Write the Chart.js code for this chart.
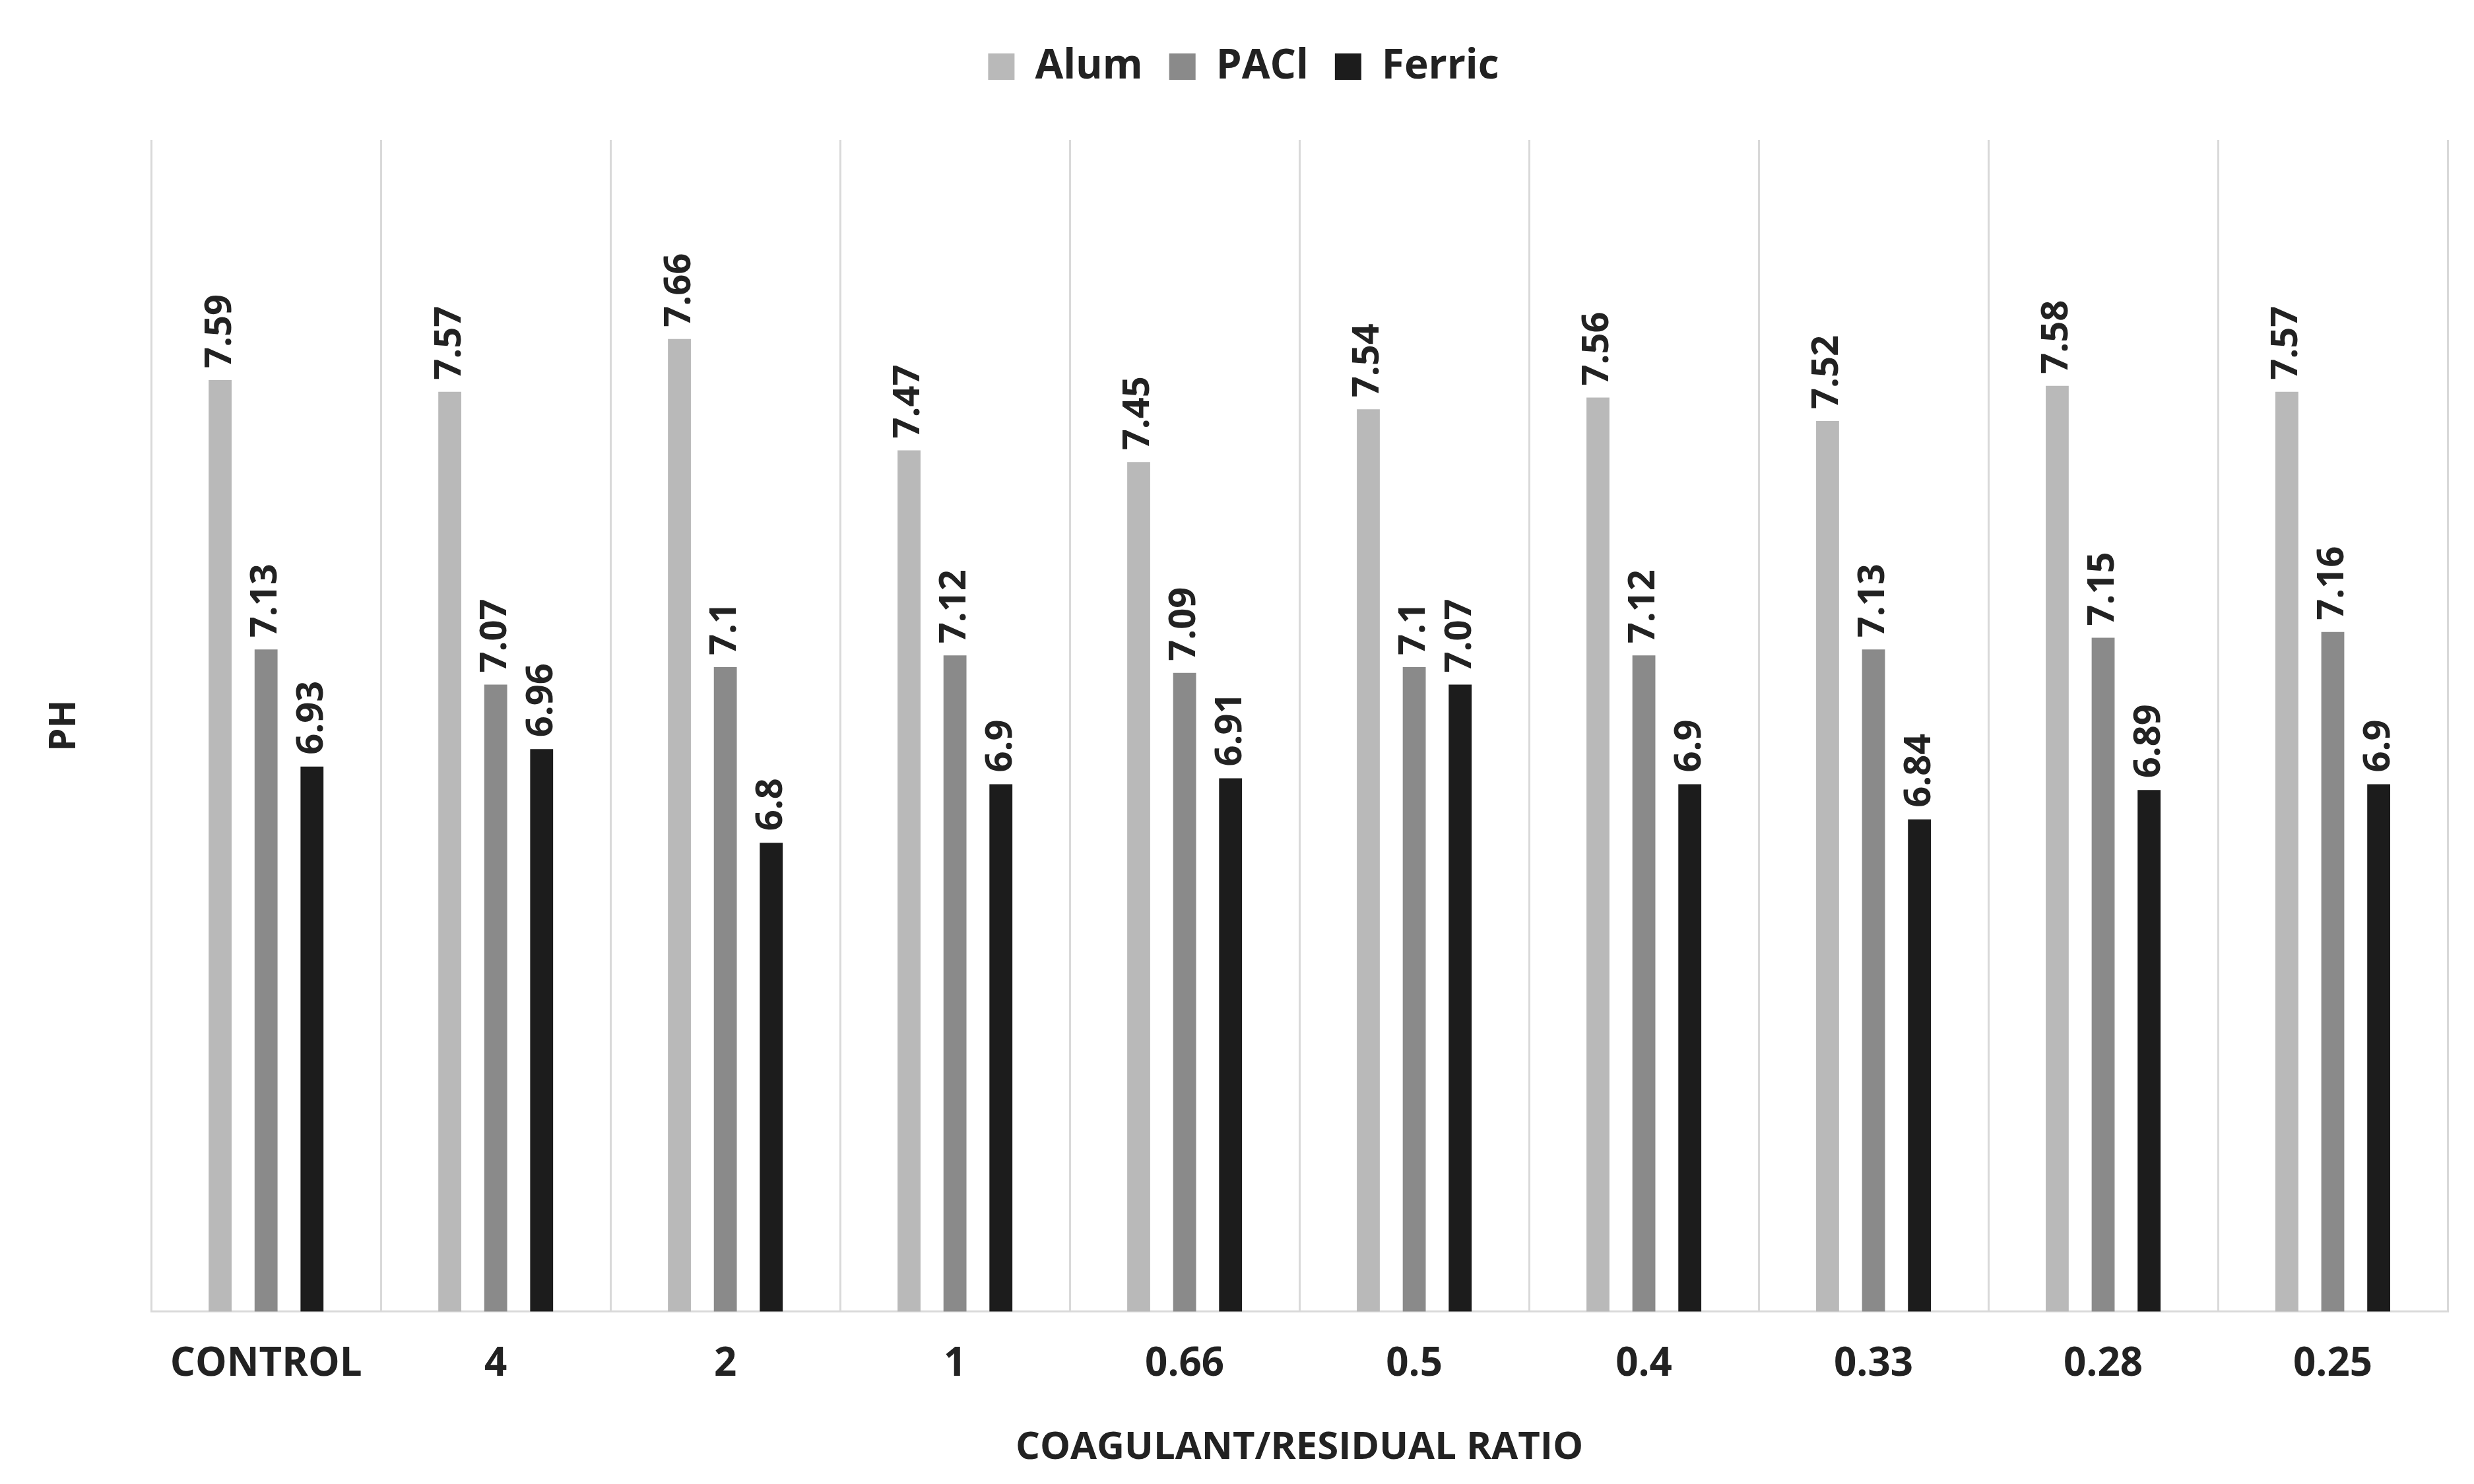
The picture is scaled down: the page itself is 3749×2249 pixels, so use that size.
<!DOCTYPE html>
<html>
<head>
<meta charset="utf-8">
<script src="https://cdn.jsdelivr.net/npm/chart.js@4"></script>
<style>
  html, body { margin: 0; padding: 0; background: #fff; }
  #wrap { width: 3749px; height: 2249px; }
</style>
</head>
<body>
<div id="wrap"><canvas id="myChart"></canvas></div>
<script>
// Chart data
const categories = ['CONTROL', '4', '2', '1', '0.66', '0.5', '0.4', '0.33', '0.28', '0.25'];
const alum = [7.59, 7.57, 7.66, 7.47, 7.45, 7.54, 7.56, 7.52, 7.58, 7.57];
const pacl = [7.13, 7.07, 7.1, 7.12, 7.09, 7.1, 7.12, 7.13, 7.15, 7.16];
const ferric = [6.93, 6.96, 6.8, 6.9, 6.91, 7.07, 6.9, 6.84, 6.89, 6.9];

const FONT = "'Open Sans', 'Liberation Sans', sans-serif";

// Rotated value labels above each bar
const valueLabels = {
    id: 'valueLabels',
    afterDatasetsDraw(chart) {
        const c = chart.ctx;
        c.save();
        c.font = "bold 56px " + FONT;
        c.fillStyle = '#222';
        c.textAlign = 'left';
        c.textBaseline = 'middle';
        chart.data.datasets.forEach((ds, i) => {
            chart.getDatasetMeta(i).data.forEach((bar, j) => {
                c.save();
                c.translate(bar.x, bar.y - 18);
                c.rotate(-Math.PI / 2);
                c.fillText(String(ds.data[j]), 0, 0);
                c.restore();
            });
        });
        c.restore();
    }
};

// Extra space under the legend
const legendGap = {
    id: 'legendGap',
    beforeInit(chart) {
        const fit = chart.legend.fit;
        chart.legend.fit = function () {
            fit.bind(chart.legend)();
            this.height += 70;
        };
    }
};

const ctx = document.getElementById('myChart');
new Chart(ctx, {
    type: 'bar',
    data: {
        labels: categories,
        datasets: [
            { label: 'Alum', data: alum, backgroundColor: '#b9b9b9' },
            { label: 'PACl', data: pacl, backgroundColor: '#8a8a8a' },
            { label: 'Ferric', data: ferric, backgroundColor: '#1c1c1c' }
        ]
    },
    options: {
        responsive: true,
        maintainAspectRatio: false,
        animation: false,
        datasets: { bar: { categoryPercentage: 0.6, barPercentage: 0.5 } },
        layout: { padding: { left: 60, right: 40, top: 30, bottom: 20 } },
        plugins: {
            legend: {
                labels: {
                    font: { family: FONT, size: 62, weight: 'bold' },
                    color: '#222',
                    boxWidth: 40,
                    boxHeight: 40,
                    padding: 40
                }
            },
            tooltip: { enabled: false }
        },
        scales: {
            x: {
                grid: { offset: true, color: '#d9d9d9', lineWidth: 3, drawTicks: false },
                border: { color: '#d9d9d9', width: 3 },
                ticks: { font: { family: FONT, size: 60, weight: 'bold' }, color: '#222', padding: 45 },
                title: {
                    display: true,
                    text: 'COAGULANT/RESIDUAL RATIO',
                    font: { family: FONT, size: 58, weight: 'bold' },
                    color: '#222',
                    padding: { top: 10, bottom: 0 }
                }
            },
            y: {
                min: 6,
                max: 8,
                grid: { display: false },
                border: { display: false },
                ticks: { display: false },
                title: {
                    display: true,
                    text: 'PH',
                    font: { family: FONT, size: 56, weight: 'bold' },
                    color: '#222',
                    padding: { bottom: 90 }
                }
            }
        }
    },
    plugins: [valueLabels, legendGap]
});
</script>
</body>
</html>
